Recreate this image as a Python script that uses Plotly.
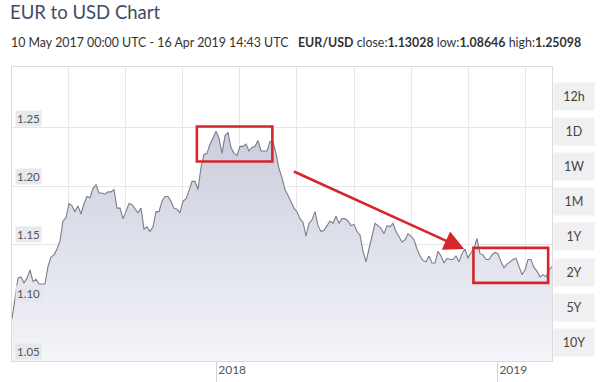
import pandas as pd
import plotly.graph_objects as go

# ---- data (EUR/USD) ----
start_date = "2017-04-11"
end_date = "2019-03-13"
rate = [
    1.086, 1.105, 1.121, 1.122, 1.117, 1.121, 1.128, 1.118, 1.120, 1.116,
    1.116, 1.116, 1.131, 1.139, 1.141, 1.146, 1.153, 1.170, 1.173, 1.185,
    1.183, 1.178, 1.183, 1.176, 1.185, 1.191, 1.190, 1.198, 1.201, 1.194,
    1.194, 1.193, 1.195, 1.195, 1.197, 1.181, 1.181, 1.172, 1.178, 1.185,
    1.184, 1.180, 1.177, 1.181, 1.163, 1.165, 1.161, 1.165, 1.178, 1.178,
    1.187, 1.191, 1.191, 1.187, 1.181, 1.180, 1.177, 1.187, 1.189, 1.196,
    1.204, 1.204, 1.197, 1.216, 1.227, 1.228, 1.236, 1.241, 1.247, 1.241,
    1.228, 1.243, 1.246, 1.233, 1.228, 1.226, 1.234, 1.234, 1.236, 1.230,
    1.233, 1.234, 1.239, 1.230, 1.230, 1.230, 1.238, 1.238, 1.228, 1.215,
    1.207, 1.197, 1.192, 1.187, 1.181, 1.178, 1.172, 1.169, 1.157, 1.168,
    1.171, 1.178, 1.166, 1.161, 1.162, 1.166, 1.170, 1.168, 1.174, 1.168,
    1.172, 1.172, 1.170, 1.166, 1.167, 1.161, 1.158, 1.144, 1.135, 1.146,
    1.156, 1.168, 1.166, 1.164, 1.159, 1.166, 1.165, 1.168, 1.161, 1.156,
    1.152, 1.154, 1.159, 1.157, 1.154, 1.146, 1.140, 1.136, 1.135, 1.140,
    1.134, 1.134, 1.144, 1.140, 1.134, 1.138, 1.137, 1.137, 1.140, 1.135,
    1.142, 1.146, 1.138, 1.143, 1.146, 1.155, 1.142, 1.141, 1.137, 1.137,
    1.141, 1.143, 1.142, 1.135, 1.130, 1.133, 1.135, 1.137, 1.138, 1.131,
    1.124, 1.128, 1.137, 1.137, 1.130, 1.127, 1.122, 1.124, 1.122, 1.128,
    1.131,
]
y_ticks = [1.05, 1.10, 1.15, 1.20, 1.25]
y_tick_labels = ["1.05", "1.10", "1.15", "1.20", "1.25"]
range_buttons = ["12h", "1D", "1W", "1M", "1Y", "2Y", "5Y", "10Y"]

title_text = "EUR to USD Chart"
subtitle_text = ("10 May 2017 00:00 UTC - 16 Apr 2019 14:43 UTC&nbsp;&nbsp;&nbsp;"
                 "<b>EUR/USD</b> close:<b>1.13028</b> low:<b>1.08646</b> high:<b>1.25098</b>")

# highlighted boxes and arrow (data coordinates)
box_top = dict(x0="2017-12-07", x1="2018-03-15", y0=1.221, y1=1.251)
box_bottom = dict(x0="2018-12-01", x1="2019-03-08", y0=1.117, y1=1.147)
arrow_tail = ("2018-04-10", 1.213)
arrow_head = ("2018-11-19", 1.146)

dates = pd.date_range(start_date, end_date, periods=len(rate))

RED = "#d5262c"
FONT = "Lato"

fig = go.Figure()
fig.add_trace(go.Scatter(
    x=dates, y=rate, mode="lines",
    line=dict(color="#7a7e8b", width=1.1),
    fill="tozeroy",
    fillgradient=dict(type="vertical", start=1.05, stop=1.25,
                      colorscale=[[0, "rgb(244,245,249)"], [1, "rgb(202,204,220)"]]),
    hoverinfo="skip", showlegend=False,
))

# red highlight rectangles
for b in (box_top, box_bottom):
    fig.add_shape(type="rect", xref="x", yref="y", line=dict(color=RED, width=2.6),
                  fillcolor="rgba(0,0,0,0)", layer="above", **b)

# arrow
fig.add_annotation(x=arrow_head[0], y=arrow_head[1], ax=arrow_tail[0], ay=arrow_tail[1],
                   xref="x", yref="y", axref="x", ayref="y", text="",
                   showarrow=True, arrowhead=2, arrowsize=1.6, arrowwidth=2.5, arrowcolor=RED)

# y tick labels (inside, above grid line, with light background)
for v, lab in zip(y_ticks, y_tick_labels):
    fig.add_annotation(x=0, xref="paper", y=v, yref="y", text=lab, showarrow=False,
                       xanchor="left", yanchor="bottom", xshift=3, yshift=1,
                       bgcolor="rgba(228,229,236,0.85)", borderpad=1,
                       font=dict(family=FONT, size=11.5, color="#555"))

# range selector buttons on the right
for i, lab in enumerate(range_buttons):
    fig.add_annotation(x=1, xref="paper", y=1, yref="paper", text=lab, showarrow=False,
                       xanchor="left", yanchor="middle", xshift=1, yshift=-(29 + 35.2 * i),
                       width=40, height=27, bgcolor="#f0f0f2", borderpad=0,
                       font=dict(family=FONT, size=12.5, color="#444"))

# subtitle
fig.add_annotation(x=0, xref="paper", y=1, yref="paper", yshift=25, xshift=-3,
                   text=subtitle_text, showarrow=False, xanchor="left", yanchor="middle",
                   font=dict(family=FONT, size=12.4, color="#333"))

fig.update_layout(
    width=600, height=382,
    margin=dict(l=12, r=48, t=67, b=21, autoexpand=False),
    paper_bgcolor="white", plot_bgcolor="white",
    title=dict(text=title_text, x=10 / 600, xanchor="left", y=1 - 13 / 382, yanchor="middle",
               font=dict(family=FONT, size=18.5, color="#3e4c66")),
    font=dict(family=FONT),
    xaxis=dict(
        type="date", range=[dates[0], dates[-1]], automargin=False,
        tickmode="linear", tick0="2018-01-01", dtick="M12", tickformat="%Y",
        showgrid=False, ticks="outside", ticklen=22, tickcolor="#d4d4d8", tickwidth=1,
        ticklabelshift=16, ticklabelstandoff=-24,
        tickfont=dict(family=FONT, size=12, color="#555"),
        showline=True, mirror=True, linecolor="#dcdce0", linewidth=1,
        minor=dict(showgrid=True, gridcolor="#e9e9ec", tick0="2017-06-22 17:00",
                   dtick=74.3 * 86400000),
        zeroline=False, fixedrange=True,
    ),
    yaxis=dict(
        range=[1.05, 1.302], tickvals=y_ticks, showticklabels=False, automargin=False,
        showgrid=True, gridcolor="#e6e6ea", zeroline=False,
        showline=True, mirror=True, linecolor="#dcdce0", linewidth=1,
    ),
)

fig.write_html("out.html")
